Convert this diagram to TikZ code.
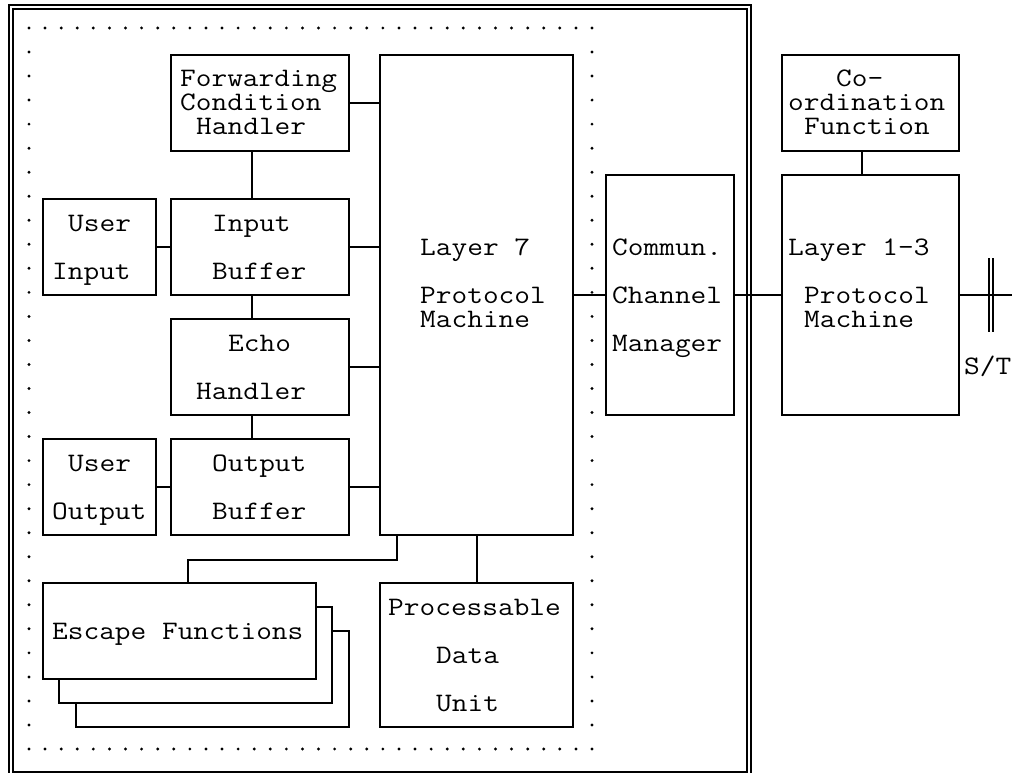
\documentclass[tikz,border=0pt]{standalone}
\usepackage{fontspec}
\setmonofont{Latin Modern Mono}[FakeStretch=1.143]
\begin{document}
\begin{tikzpicture}[x=1pt,y=-1pt,
  blk/.style={draw, line width=1.8pt, fill=white, inner sep=0pt},
  frame/.style={draw, line width=1.5pt},
  wire/.style={draw, line width=1.8pt},
  txt/.style={anchor=base west, inner sep=0pt, text height=15pt, text depth=4pt,
              font=\ttfamily\fontsize{26.67pt}{24pt}\selectfont},
  dot/.style={fill=black}]
\useasboundingbox (0,0) rectangle (1012,773);
\clip (0,0) rectangle (1012,773);

% double outer frame
\draw[frame] (9,5) rectangle (751,778);
\draw[frame] (13,9) rectangle (747,772);

% dotted inner frame
\foreach \i in {0,...,35} {
  \fill[dot] ({29+\i*16.0857},28) circle (1.6);
  \fill[dot] ({29+\i*16.0857},749) circle (1.6);
}
\foreach \j in {1,...,29} {
  \fill[dot] (29,{28+\j*24.0333}) circle (1.6);
  \fill[dot] (592,{28+\j*24.0333}) circle (1.6);
}

% blocks
\node[blk, minimum width=178pt, minimum height=96pt] (fch) at (260,103) {};
\node[blk, minimum width=113pt, minimum height=96pt] (ui) at (99.5,247) {};
\node[blk, minimum width=178pt, minimum height=96pt] (ib) at (260,247) {};
\node[blk, minimum width=178pt, minimum height=96pt] (eh) at (260,367) {};
\node[blk, minimum width=113pt, minimum height=96pt] (uo) at (99.5,487) {};
\node[blk, minimum width=178pt, minimum height=96pt] (ob) at (260,487) {};
\node[blk, minimum width=193pt, minimum height=480pt] (l7) at (476.5,295) {};
\node[blk, minimum width=273pt, minimum height=96pt] (ef3) at (212.5,679) {};
\node[blk, minimum width=273pt, minimum height=96pt] (ef2) at (195.5,655) {};
\node[blk, minimum width=273pt, minimum height=96pt] (ef1) at (179.5,631) {};
\node[blk, minimum width=193pt, minimum height=144pt] (pdu) at (476.5,655) {};
\node[blk, minimum width=128pt, minimum height=240pt] (ccm) at (670,295) {};
\node[blk, minimum width=177pt, minimum height=96pt] (cf) at (870.5,103) {};
\node[blk, minimum width=177pt, minimum height=240pt] (l13) at (870.5,295) {};

% connectors
\draw[wire] (fch.east) -- (fch.east -| l7.west);
\draw[wire] ([xshift=-8pt]fch.south) -- ([xshift=-8pt]ib.north);
\draw[wire] (ui.east) -- (ib.west);
\draw[wire] (ib.east) -- (ib.east -| l7.west);
\draw[wire] ([xshift=-8pt]ib.south) -- ([xshift=-8pt]eh.north);
\draw[wire] (eh.east) -- (eh.east -| l7.west);
\draw[wire] ([xshift=-8pt]eh.south) -- ([xshift=-8pt]ob.north);
\draw[wire] (uo.east) -- (ob.west);
\draw[wire] (ob.east) -- (ob.east -| l7.west);
\draw[wire] ([xshift=-79.5pt]l7.south) -- ++(0,24) -| ([xshift=8.5pt]ef1.north);
\draw[wire] ([xshift=0.5pt]l7.south) -- ([xshift=0.5pt]pdu.north);
\draw[wire] (l7.east) -- (ccm.west);
\draw[wire] (ccm.east) -- (l13.west);
\draw[wire] ([xshift=-8.5pt]cf.south) -- ([xshift=-8.5pt]l13.north);

% S/T reference point on the outgoing line
\coordinate (st) at (1016,295);
\coordinate (stbarA1) at (989,258);
\coordinate (stbarA2) at (989,332);
\coordinate (stbarB1) at (993,258);
\coordinate (stbarB2) at (993,332);
\draw[wire] (l13.east) -- (st);
\draw[frame] (stbarA1) -- (stbarA2);
\draw[frame] (stbarB1) -- (stbarB2);

% labels (character grid: x = 20+16c, baseline = 87+24k)
\node[txt] (tfch1) at (180,87)  {Forwarding};
\node[txt] (tfch2) at (180,111) {Condition};
\node[txt] (tfch3) at (196,135) {Handler};
\node[txt] (tui1)  at (68,231)  {User};
\node[txt] (tui2)  at (52,279)  {Input};
\node[txt] (tib1)  at (212,231) {Input};
\node[txt] (tib2)  at (212,279) {Buffer};
\node[txt] (teh1)  at (228,351) {Echo};
\node[txt] (teh2)  at (196,399) {Handler};
\node[txt] (tuo1)  at (68,471)  {User};
\node[txt] (tuo2)  at (52,519)  {Output};
\node[txt] (tob1)  at (212,471) {Output};
\node[txt] (tob2)  at (212,519) {Buffer};
\node[txt] (tl71)  at (420,255) {Layer 7};
\node[txt] (tl72)  at (420,303) {Protocol};
\node[txt] (tl73)  at (420,327) {Machine};
\node[txt] (tccm1) at (612,255) {Commun.};
\node[txt] (tccm2) at (612,303) {Channel};
\node[txt] (tccm3) at (612,351) {Manager};
\node[txt] (tcf1)  at (836,87)  {Co-};
\node[txt] (tcf2)  at (788,111) {ordination};
\node[txt] (tcf3)  at (804,135) {Function};
\node[txt] (tl131) at (788,255) {Layer 1-3};
\node[txt] (tl132) at (804,303) {Protocol};
\node[txt] (tl133) at (804,327) {Machine};
\node[txt] (tst)   at (964,374) {S/T};
\node[txt] (tef)   at (52,639)  {Escape Functions};
\node[txt] (tpdu1) at (388,615) {Processable};
\node[txt] (tpdu2) at (436,663) {Data};
\node[txt] (tpdu3) at (436,711) {Unit};
\end{tikzpicture}
\end{document}
